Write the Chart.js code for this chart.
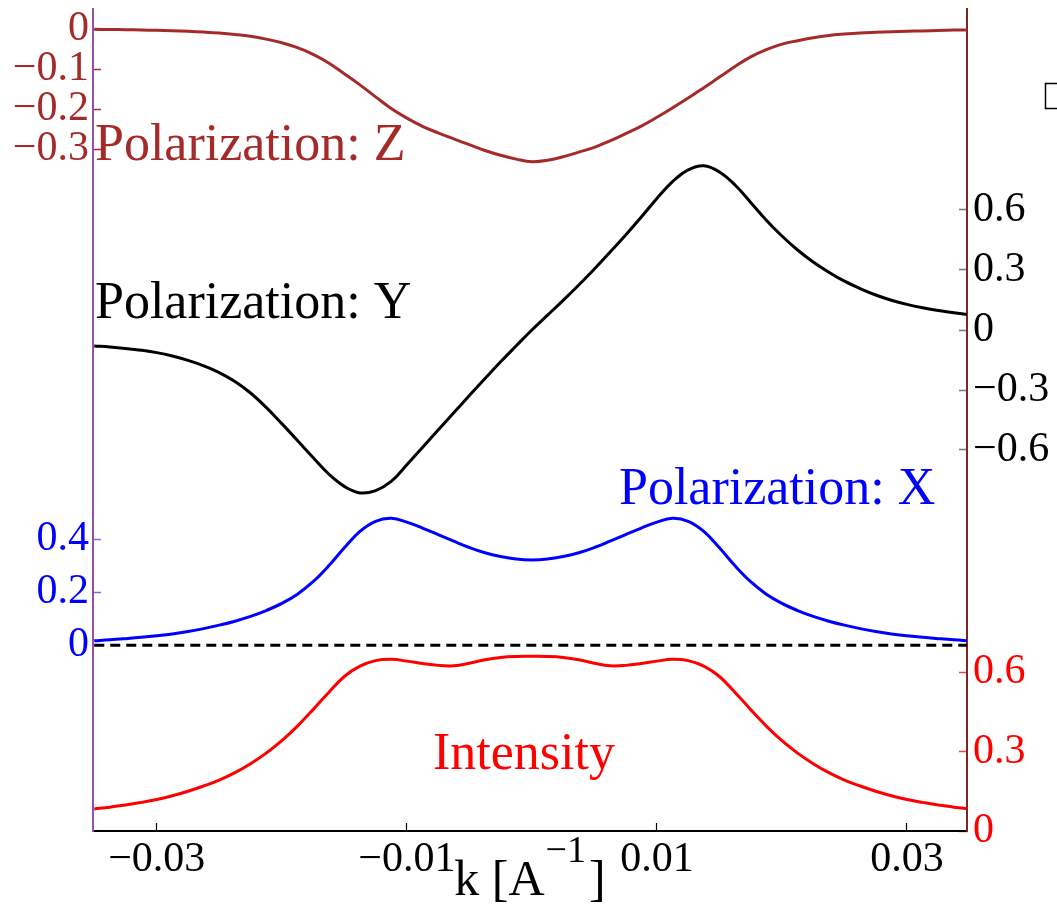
<!DOCTYPE html>
<html>
<head>
<meta charset="utf-8">
<title>Polarization vs k</title>
<script src="https://cdn.jsdelivr.net/npm/chart.js@4.4.1/dist/chart.umd.min.js"></script>
<style>
  html, body { margin: 0; padding: 0; background: #fff; }
  canvas { display: block; }
</style>
</head>
<body>
<canvas id="polChart" width="1057" height="905"></canvas>
<script>
// momentum grid (1/A)
const kValues = [
  -0.035, -0.03375, -0.0325, -0.03125, -0.03, -0.02875, -0.0275, -0.02625,
  -0.025, -0.02375, -0.0225, -0.02125, -0.02, -0.01875, -0.0175, -0.01625,
  -0.015, -0.01375, -0.0125, -0.01125, -0.01, -0.00875, -0.0075, -0.00625,
  -0.005, -0.00375, -0.0025, -0.00125, 0,
  0.00125, 0.0025, 0.00375, 0.005, 0.00625, 0.0075, 0.00875, 0.01,
  0.01125, 0.0125, 0.01375, 0.015, 0.01625, 0.0175, 0.01875, 0.02,
  0.02125, 0.0225, 0.02375, 0.025, 0.02625, 0.0275, 0.02875, 0.03,
  0.03125, 0.0325, 0.03375, 0.035
];

const polZ = [
  0, -0.0005, -0.001, -0.0017, -0.0025, -0.0036, -0.005, -0.007,
  -0.0095, -0.013, -0.0175, -0.0245, -0.0335, -0.046, -0.0625, -0.084,
  -0.111, -0.139, -0.169, -0.198, -0.222, -0.2425, -0.259, -0.274,
  -0.2885, -0.303, -0.315, -0.3245, -0.331,
  -0.3275, -0.3185, -0.307, -0.295, -0.279, -0.261, -0.242, -0.22,
  -0.1965, -0.172, -0.146, -0.1195, -0.093, -0.069, -0.051, -0.037,
  -0.0285, -0.021, -0.0155, -0.012, -0.0093, -0.0075, -0.006, -0.005,
  -0.004, -0.003, -0.002, -0.0015
];

const polY = [
  -0.08, -0.085, -0.092, -0.101, -0.113, -0.13, -0.152, -0.179,
  -0.213, -0.258, -0.315, -0.387, -0.468, -0.552, -0.638, -0.72,
  -0.782, -0.8145, -0.803, -0.757, -0.674, -0.587, -0.5, -0.414,
  -0.328, -0.243, -0.159, -0.079, 0,
  0.074, 0.148, 0.225, 0.305, 0.389, 0.475, 0.565, 0.658,
  0.742, 0.801, 0.8215, 0.79, 0.725, 0.638, 0.549, 0.47,
  0.4, 0.34, 0.289, 0.244, 0.207, 0.175, 0.149, 0.128,
  0.111, 0.097, 0.086, 0.076
];

const polX = [
  0.017, 0.0205, 0.025, 0.03, 0.036, 0.043, 0.052, 0.063,
  0.076, 0.091, 0.109, 0.131, 0.158, 0.193, 0.24, 0.3,
  0.368, 0.43, 0.468, 0.479, 0.465, 0.4425, 0.418, 0.393,
  0.369, 0.349, 0.335, 0.3255, 0.322,
  0.3255, 0.335, 0.349, 0.369, 0.393, 0.418, 0.4425, 0.465,
  0.479, 0.468, 0.43, 0.368, 0.3, 0.24, 0.193, 0.158,
  0.131, 0.109, 0.091, 0.076, 0.063, 0.052, 0.043, 0.036,
  0.03, 0.025, 0.0205, 0.017
];

const intensity = [
  0.083, 0.09, 0.098, 0.108, 0.119, 0.133, 0.15, 0.17,
  0.192, 0.22, 0.254, 0.294, 0.341, 0.396, 0.458, 0.523,
  0.583, 0.622, 0.643, 0.648, 0.641, 0.632, 0.625, 0.6235,
  0.633, 0.6465, 0.655, 0.6585, 0.659,
  0.6585, 0.655, 0.6465, 0.633, 0.6235, 0.625, 0.632, 0.641,
  0.648, 0.643, 0.622, 0.583, 0.523, 0.458, 0.396, 0.341,
  0.294, 0.254, 0.22, 0.192, 0.17, 0.15, 0.133, 0.119,
  0.108, 0.098, 0.09, 0.083
];

// tick labels for each axis
const kTicks = [-0.03, -0.01, 0.01, 0.03];
const zTicks = [0, -0.1, -0.2, -0.3];
const yTicks = [-0.6, -0.3, 0, 0.3, 0.6];
const xTicks = [0, 0.2, 0.4];
const iTicks = [0, 0.3, 0.6];

const curveLabels = [
  { text: 'Polarization: Z', color: '#a52a2a', x: 95, y: 160 },
  { text: 'Polarization: Y', color: '#000000', x: 95, y: 318 },
  { text: 'Polarization: X', color: '#0000ff', x: 619, y: 504 },
  { text: 'Intensity', color: '#ff0000', x: 433, y: 769 }
];

const serif = "'Liberation Serif', 'Times New Roman', serif";
const BROWN = '#a52a2a';
const PURPLE = '#9650aa';
const MAROON = '#7a2626';

const pts = vals => vals.map((v, i) => ({ x: kValues[i], y: v }));
const fmt = v => (v < 0 ? '\u2212' : '') + Math.abs(v);
const fixedTicks = list => scale => { scale.ticks = list.map(v => ({ value: v })); };
// keep the plot area from growing to fit half-labels at the ends
const noEdgePadding = s => {
  s.paddingTop = 0; s.paddingBottom = 0; s.paddingLeft = 0; s.paddingRight = 0;
};

function sideAxis(opts) {
  return {
    type: 'linear',
    position: opts.position,
    stack: opts.position,
    stackWeight: opts.weight,
    min: opts.min,
    max: opts.max,
    afterBuildTicks: fixedTicks(opts.ticks),
    afterFit: s => { s.width = opts.width; noEdgePadding(s); },
    ticks: {
      color: opts.color,
      font: { family: serif, size: 42 },
      padding: opts.padding,
      callback: fmt
    },
    grid: { drawOnChartArea: false, tickLength: -8, tickColor: opts.tickColor, tickWidth: 1.5 },
    border: { color: opts.position === 'left' ? PURPLE : MAROON, width: 2 }
  };
}

// k axis title with a raised exponent, curve names, legend stub
const decorations = {
  id: 'decorations',
  afterDraw(chart) {
    const ctx = chart.ctx;
    const a = chart.chartArea;
    ctx.save();
    ctx.fillStyle = '#000';
    ctx.textBaseline = 'alphabetic';
    ctx.textAlign = 'left';
    const big = `50px ${serif}`, sup = `38px ${serif}`;
    ctx.font = big;
    const w1 = ctx.measureText('k [A').width, w3 = ctx.measureText(']').width;
    ctx.font = sup;
    const w2 = ctx.measureText('\u22121').width;
    let x = (a.left + a.right) / 2 - (w1 + w2 + w3) / 2 - 2;
    ctx.font = big;
    ctx.fillText('k [A', x, 895);
    x += w1 + 1;
    ctx.font = sup;
    ctx.fillText('\u22121', x, 862);
    x += w2 + 3;
    ctx.font = big;
    ctx.fillText(']', x, 895);

    ctx.font = `52px ${serif}`;
    curveLabels.forEach(l => {
      ctx.fillStyle = l.color;
      ctx.fillText(l.text, l.x, l.y);
    });

    ctx.strokeStyle = '#000';
    ctx.lineWidth = 1.5;
    ctx.strokeRect(1045.5, 83.5, 24, 25);
    ctx.restore();
  }
};

const line = (label, data, axis, color, extra) => Object.assign({
  label, data, yAxisID: axis, borderColor: color, borderWidth: 3, tension: 0.4, pointRadius: 0, fill: false
}, extra || {});

new Chart(document.getElementById('polChart'), {
  type: 'line',
  data: {
    datasets: [
      line('Z', pts(polZ), 'yZ', BROWN),
      line('Y', pts(polY), 'yY', '#000000'),
      line('X', pts(polX), 'yX', '#0000ff'),
      line('zero', [{ x: kValues[0], y: 0 }, { x: kValues[kValues.length - 1], y: 0 }],
        'yX', '#000000', { borderDash: [10, 6], tension: 0 }),
      line('Intensity', pts(intensity), 'yI', '#ff0000')
    ]
  },
  options: {
    responsive: false,
    animation: false,
    devicePixelRatio: 1,
    layout: { padding: { top: 9, left: 0, right: 0, bottom: 0 } },
    plugins: { legend: { display: false }, tooltip: { enabled: false } },
    scales: {
      x: {
        type: 'linear',
        min: -0.0351,
        max: 0.0348,
        afterBuildTicks: fixedTicks(kTicks),
        afterFit: s => { s.height = 74; noEdgePadding(s); },
        ticks: { color: '#000', font: { family: serif, size: 42 }, padding: 12, callback: fmt, maxRotation: 0 },
        grid: { drawOnChartArea: false, tickLength: -8, tickColor: '#000', tickWidth: 1.2 },
        border: { color: '#000', width: 2 }
      },
      yX: sideAxis({ position: 'left', weight: 522, min: -0.70075, max: 1.26906, ticks: xTicks,
        color: '#0000ff', tickColor: '#6f6fff', width: 93, padding: 12 }),
      yZ: sideAxis({ position: 'left', weight: 300, min: -0.69925, max: 0.05075, ticks: zTicks,
        color: BROWN, tickColor: BROWN, width: 93, padding: 12 }),
      yY: sideAxis({ position: 'right', weight: 550, min: -1.145, max: 1.605, ticks: yTicks,
        color: '#000', tickColor: '#777', width: 90, padding: 14 }),
      yI: sideAxis({ position: 'right', weight: 272, min: 0, max: 1.02642, ticks: iTicks,
        color: '#ff0000', tickColor: '#ff4040', width: 90, padding: 14 })
    }
  },
  plugins: [decorations]
});
</script>
</body>
</html>
